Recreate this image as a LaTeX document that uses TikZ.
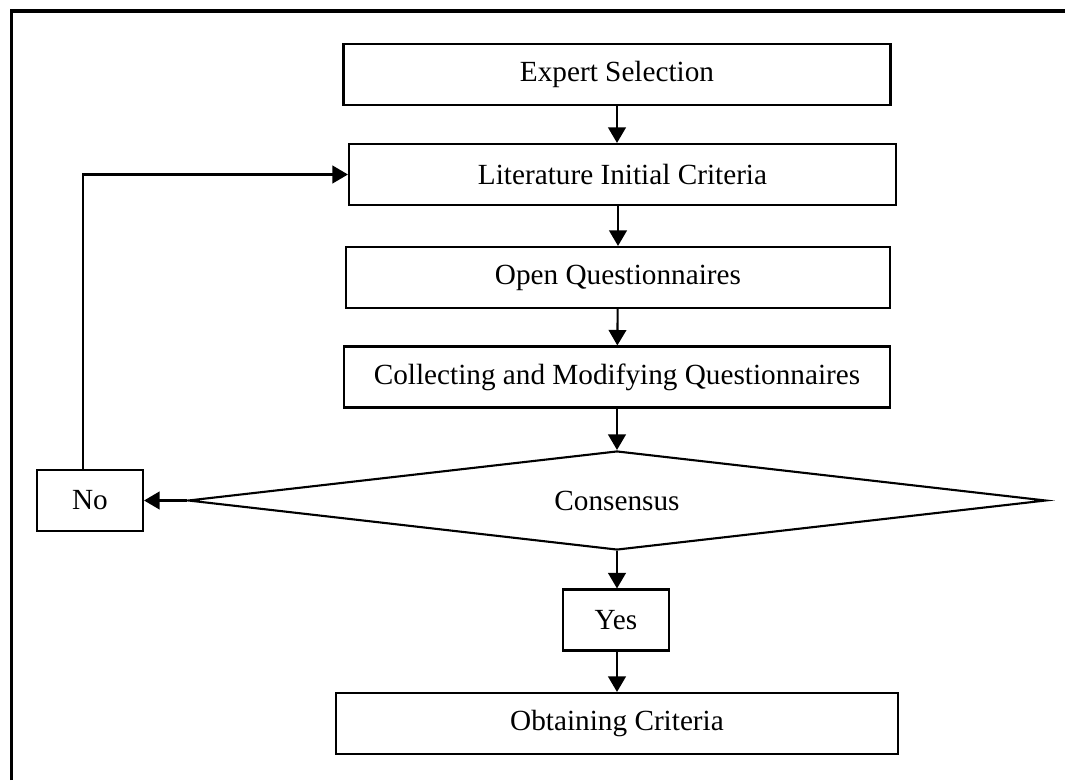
\documentclass[tikz,border=0pt]{standalone}
\usepackage{fontspec}
\setmainfont{Liberation Serif}
\usetikzlibrary{positioning, shapes.geometric, arrows.meta}

\begin{document}
\begin{tikzpicture}[
    stepBox/.style={draw=black, line width=1.5pt, rectangle, align=center, font=\fontsize{20.8}{25}\selectfont, minimum height=1.525cm, inner sep=0pt},
    decisionBox/.style={draw=black, line width=1.5pt, diamond, shape aspect=8.7, align=center, font=\fontsize{20.8}{25}\selectfont, minimum width=21.45cm, minimum height=2.475cm, inner sep=0pt},
    flowArrow/.style={line width=1.5pt, -{Triangle[length=11pt, width=12.5pt]}},
]
\useasboundingbox (0,0) rectangle (26.625,19.5);
\draw[line width=2.4pt] (0.29,0) -- (0.29,19.225) -- (26.7,19.225);
\node[stepBox, minimum width=13.675cm] (expert) at (15.425,17.6375) {Expert Selection};
\node[stepBox, minimum width=13.675cm] (litCrit) at (15.5625,15.1375) {Literature Initial Criteria};
\node[stepBox, minimum width=13.6cm] (openQ) at (15.45,12.5625) {Open Questionnaires};
\node[stepBox, minimum width=13.65cm] (collectQ) at (15.425,10.075) {Collecting and Modifying Questionnaires};
\node[decisionBox] (consensus) at (15.425,6.9875) {Consensus};
\node[stepBox, minimum width=2.65cm] (noBox) at (2.25,6.9875) {No};
\node[stepBox, minimum width=2.65cm] (yesBox) at (15.4,4.0) {Yes};
\node[stepBox, minimum width=14.05cm] (obtain) at (15.425,1.4125) {Obtaining Criteria};
\draw[flowArrow] (expert) -- (expert |- litCrit.north);
\draw[flowArrow] (litCrit.south -| openQ) -- (openQ);
\draw[flowArrow] (openQ) -- (collectQ);
\draw[flowArrow] (collectQ) -- (consensus);
\draw[flowArrow] (consensus.west) -- (noBox);
\draw[flowArrow] ([xshift=-0.175cm]noBox.north) |- (litCrit.west);
\draw[flowArrow] (consensus.south) -- (yesBox.north -| consensus.south);
\draw[flowArrow] (yesBox.south -| obtain) -- (obtain);
\end{tikzpicture}
\end{document}
